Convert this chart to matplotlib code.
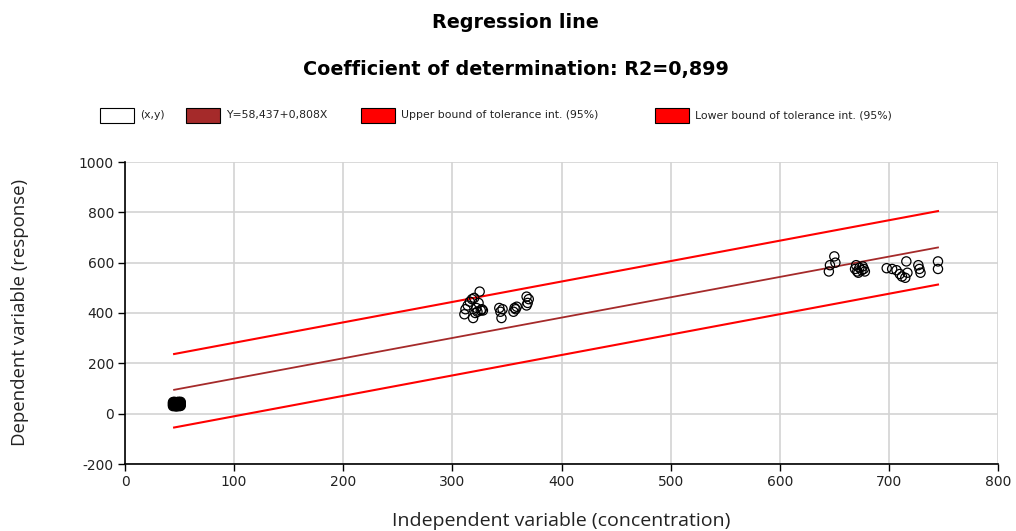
import matplotlib
matplotlib.use("Agg")
import matplotlib.pyplot as plt
from matplotlib.patches import Rectangle
import numpy as np

plt.rcParams["axes.unicode_minus"] = False

# Observed (x, y) pairs: low-concentration replicates
x_low = [44, 45, 46, 47, 48, 49, 50, 51,
         44, 45, 46, 47, 48, 49, 50, 51,
         44, 45, 46, 47, 48, 49, 50, 51,
         44, 45, 46, 47, 48, 49, 50, 51,
         44, 45, 46, 47, 48, 49, 50, 51,
         45, 47, 49, 46, 48, 50]
y_low = [30, 31, 30, 29, 30, 31, 30, 31,
         34, 35, 34, 33, 34, 35, 34, 35,
         38, 39, 38, 37, 38, 39, 38, 39,
         42, 43, 42, 41, 42, 43, 42, 43,
         46, 47, 46, 45, 46, 47, 46, 47,
         36, 40, 44, 32, 40, 36]

x_mid = [311, 312, 314, 316, 318, 320, 319, 321, 322, 324, 325, 326, 327, 323, 328,
         343, 344, 345, 346, 356, 357, 358, 359, 368, 369, 370, 368]
y_mid = [395, 415, 430, 445, 455, 460, 380, 400, 420, 440, 485, 410, 415, 405, 410,
         420, 405, 380, 415, 405, 420, 415, 425, 430, 440, 455, 465]

x_high = [645, 646, 650, 651, 669, 671, 673, 675, 672, 677, 676, 678, 670,
          698, 703, 707, 710, 712, 715, 717, 716, 727, 728, 729, 745, 745]
y_high = [565, 590, 625, 600, 575, 565, 580, 570, 560, 575, 585, 565, 590,
          578, 575, 570, 555, 545, 540, 560, 605, 590, 575, 560, 605, 575]

x_obs = x_low + x_mid + x_high
y_obs = y_low + y_mid + y_high

# Fitted regression line  Y = a + bX
intercept = 58.437
slope = 0.808
r2_text = "0,899"

# Tolerance interval bounds (95%) at the ends of the fitted range
tol_x = [45, 745]
tol_upper = [237, 805]
tol_lower = [-55, 513]

x_ticks = [0, 100, 200, 300, 400, 500, 600, 700, 800]
y_ticks = [-200, 0, 200, 400, 600, 800, 1000]

W, H = 1016, 531
fig = plt.figure(figsize=(W / 100, H / 100), dpi=100)
ax = fig.add_axes([125 / W, 1 - 464 / H, (998 - 125) / W, (464 - 162) / H])

fit_x = np.array(tol_x, dtype=float)
fit_y = intercept + slope * fit_x

ax.plot(tol_x, tol_upper, color="#FF0000", lw=1.5, zorder=3)
ax.plot(tol_x, tol_lower, color="#FF0000", lw=1.5, zorder=3)
ax.plot(fit_x, fit_y, color="#A52A2A", lw=1.3, zorder=3)
ax.scatter(x_obs, y_obs, s=44, facecolors="none", edgecolors="black",
           linewidths=0.9, zorder=4)

ax.set_xlim(0, 800)
ax.set_ylim(-200, 1000)
ax.set_xticks(x_ticks)
ax.set_yticks(y_ticks)
ax.grid(True, color="#D3D3D3", lw=1.2)
ax.set_axisbelow(True)
for s in ("top", "right"):
    ax.spines[s].set_visible(False)
for s in ("left", "bottom"):
    ax.spines[s].set_color("black")
    ax.spines[s].set_linewidth(1.2)
ax.tick_params(axis="both", length=5, width=1, color="black",
               labelsize=10, labelcolor="#222222", pad=3)

ax.set_xlabel("Independent variable (concentration)", fontsize=14,
              family="Open Sans", color="#222222")
ax.set_ylabel("Dependent variable (response)", fontsize=13.4,
              family="Open Sans", color="#222222")
ax.xaxis.set_label_coords(0.5, (464 - 521) / 302, transform=ax.transAxes)
ax.yaxis.set_label_coords((20 - 125) / 873, 0.5, transform=ax.transAxes)
ax.xaxis.label.set_va("center")
ax.yaxis.label.set_va("center")

fig.text(515 / W, 1 - 23 / H, "Regression line", ha="center", va="center",
         fontsize=13.8, fontweight="bold")
fig.text(516 / W, 1 - 70 / H,
         "Coefficient of determination: R2=" + r2_text,
         ha="center", va="center", fontsize=13.8, fontweight="bold")

# Legend row
legend_items = [
    (100, "white", "(x,y)"),
    (186, "#A52A2A", "Y=58,437+0,808X"),
    (361, "#FF0000", "Upper bound of tolerance int. (95%)"),
    (655, "#FF0000", "Lower bound of tolerance int. (95%)"),
]
box_w, box_h, box_y = 34, 15, 108
for px, col, label in legend_items:
    fig.patches.append(Rectangle((px / W, 1 - (box_y + box_h) / H), box_w / W, box_h / H,
                                 transform=fig.transFigure, facecolor=col,
                                 edgecolor="black", lw=0.8))
    fig.text((px + box_w + 6) / W, 1 - (box_y + box_h / 2) / H, label,
             ha="left", va="center", fontsize=7.8, color="#222222")

fig.savefig("out.png", dpi=100)
